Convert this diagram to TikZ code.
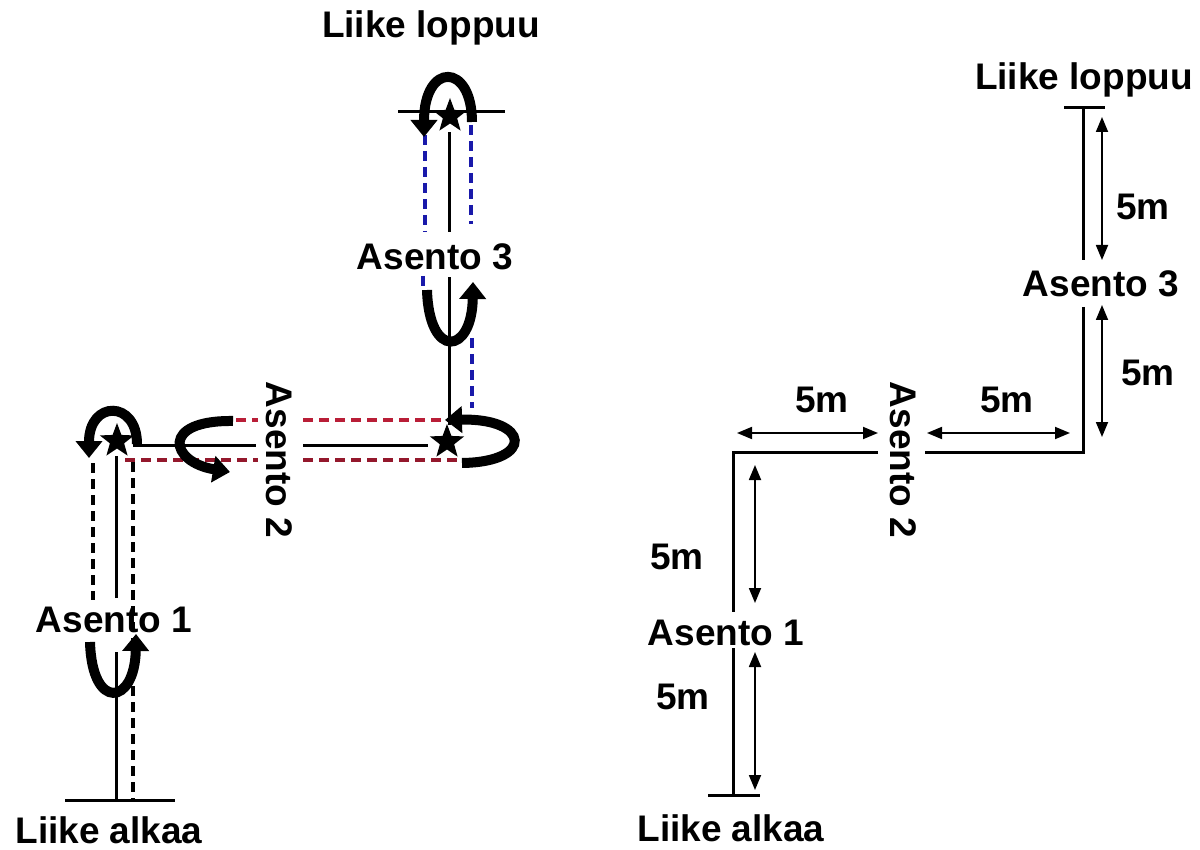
\documentclass[tikz,border=0pt]{standalone}
\usepackage{fontspec}
\setmainfont{Liberation Sans}
\usetikzlibrary{positioning,shapes.geometric,arrows.meta}
\definecolor{guidered}{RGB}{185,30,55}
\definecolor{guideblue}{RGB}{25,25,170}

\begin{document}
\begin{tikzpicture}[
  x=1pt, y=-1pt,
  txt/.style={font=\fontsize{37}{40}\selectfont\bfseries, inner sep=0pt, anchor=base},
  dim/.style={font=\fontsize{37}{40}\selectfont\bfseries, inner sep=0pt},
  turnstar/.style={star, star points=5, star point ratio=2.4, fill=black, inner sep=0pt, minimum size=36pt},
  track/.style={line width=3pt},
  guide/.style={line width=3.5pt, dash pattern=on 10pt off 6pt},
  turn/.style={line width=10pt, -{Triangle[width=26pt,length=17pt]}},
  measure/.style={line width=1.8pt, {Triangle[width=12pt,length=15pt]}-{Triangle[width=12pt,length=15pt]}}
]
  \useasboundingbox (0,0) rectangle (1200,850);

  % left: the path with turns
  \node[txt] (alkaaL) at (109,843) {Liike alkaa};
  \node[txt] (asento1L) at (114,632) {Asento 1};
  \node[txt, anchor=center, rotate=-90] (asento2L) at (279,460) {Asento 2};
  \node[txt] (asento3L) at (435,270) {Asento 3};
  \node[txt] (loppuuL) at (431,38) {Liike loppuu};

  \node[turnstar] (starA) at (117,441) {};
  \node[turnstar] (starB) at (447,442) {};
  \node[turnstar] (starC) at (450,116) {};

  \draw[track] (65,800) -- (175,800);
  \draw[track] (116,800) -- (116,652);
  \draw[track] (116,598) -- (116,456);
  \draw[track] (133,445) -- (256,445);
  \draw[track] (303,445) -- (428,445);
  \draw[track] (449,425) -- (449,277);
  \draw[track] (449,232) -- (449,132);
  \draw[track] (398,112) -- (505,112);

  \draw[guide] (93,463) -- (93,600);
  \draw[guide] (133,462) -- (133,800);
  \draw[guide, guidered] (236,420) -- (258,420) (303,420) -- (448,420);
  \draw[guide, guidered!80!black] (125,460) -- (258,460) (303,460) -- (462,460);
  \draw[guide, guideblue] (425,135) -- (425,232) (423,276) -- (423,288);
  \draw[guide, guideblue] (471,125) -- (471,224) (472,338) -- (472,408);

  \draw[turn] (137,444) .. controls (137,400) and (89,400) .. (89,458);
  \draw[turn] (472,122) .. controls (472,62) and (424,62) .. (424,137);
  \draw[turn] (90,642) .. controls (92,712) and (135,705) .. (136,634);
  \draw[turn] (427,290) .. controls (429,360) and (472,355) .. (473,282);
  \draw[turn] (233,421) .. controls (160,420) and (170,462) .. (230,472);
  \draw[turn] (462,463) .. controls (535,462) and (530,418) .. (445,420);

  % right: the same path with distances
  \node[txt] (loppuuR) at (1084,90) {Liike loppuu};
  \node[txt] (asento3R) at (1101,297) {Asento 3};
  \node[txt, anchor=center, rotate=-90] (asento2R) at (903,460) {Asento 2};
  \node[txt] (asento1R) at (726,645) {Asento 1};
  \node[txt] (alkaaR) at (731,841) {Liike alkaa};

  \draw[track] (1064,108) -- (1105,108);
  \draw[track] (1083,108) -- (1083,260);
  \draw[track] (1083,307) -- (1083,452) -- (925,452);
  \draw[track] (878,452) -- (733,452) -- (733,612);
  \draw[track] (733,648) -- (733,795);
  \draw[track] (708,795) -- (760,795);

  \draw[measure] (1102,117) -- (1102,260);
  \draw[measure] (1102,305) -- (1102,437);
  \draw[measure] (927,433) -- (1070,433);
  \draw[measure] (737,433) -- (878,433);
  \draw[measure] (755,465) -- (755,603);
  \draw[measure] (755,652) -- (755,790);

  \node[dim] (dist1) at (1143,207) {5m};
  \node[dim] (dist2) at (1148,373) {5m};
  \node[dim] (dist3) at (1007,400) {5m};
  \node[dim] (dist4) at (822,400) {5m};
  \node[dim] (dist5) at (677,557) {5m};
  \node[dim] (dist6) at (683,697) {5m};
\end{tikzpicture}
\end{document}
